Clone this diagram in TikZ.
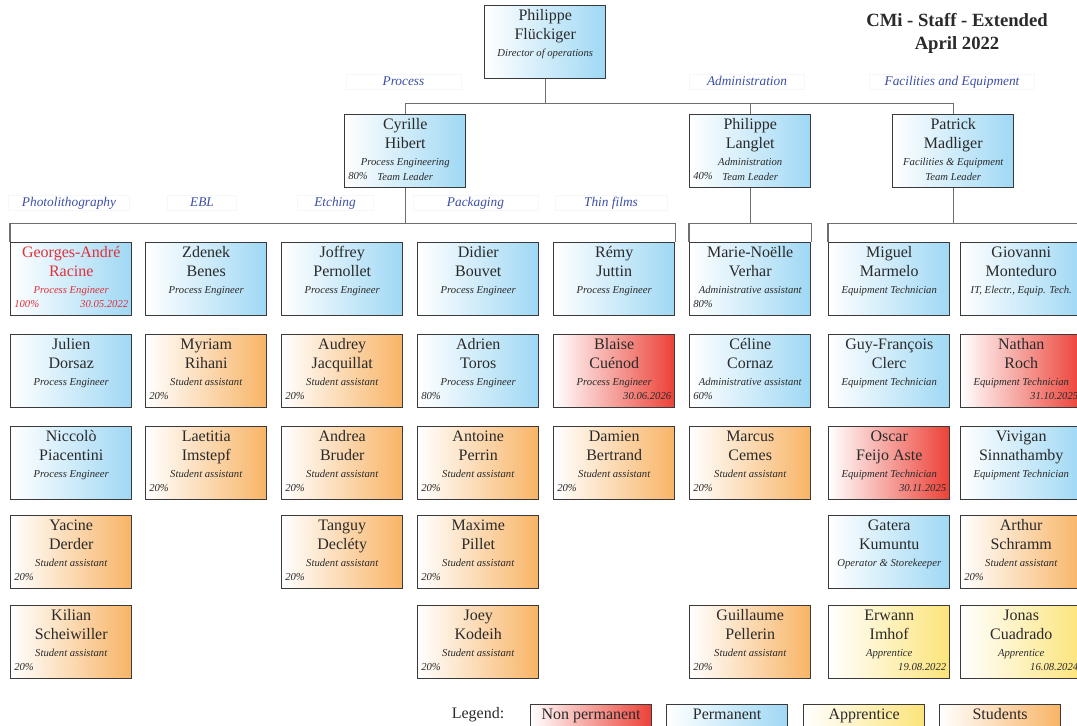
\documentclass[tikz,border=0pt]{standalone}
\usepackage{fontspec}
\setmainfont{Liberation Serif}
\usepackage{tikz}
\usetikzlibrary{positioning, calc}

\definecolor{permblue}{HTML}{9FD8F4}
\definecolor{studorange}{HTML}{F8B466}
\definecolor{tempred}{HTML}{EC4137}
\definecolor{apprgold}{HTML}{FCE47A}
\definecolor{namered}{HTML}{E0303A}
\definecolor{deptblue}{HTML}{3B4EA6}
\definecolor{boxgray}{HTML}{3A3A3A}
\definecolor{wiregray}{HTML}{6E6E6E}
\definecolor{inkgray}{HTML}{2A2A2A}

\tikzstyle{staffbox} = [draw=boxgray, line width=1.1pt, minimum width=90.75pt, minimum height=54.75pt, inner sep=0pt, anchor=north west]
\tikzstyle{perm} = [left color=white, right color=permblue]
\tikzstyle{stud} = [left color=white, right color=studorange]
\tikzstyle{temp} = [left color=white, right color=tempred]
\tikzstyle{appr} = [left color=white, right color=apprgold]
\tikzstyle{who} = [font=\fontsize{12}{14}\selectfont, text=inkgray, inner sep=0pt, anchor=base]
\tikzstyle{job} = [font=\fontsize{8}{9}\selectfont\itshape, text=inkgray, inner sep=0pt, anchor=base]
\tikzstyle{dept} = [font=\fontsize{10}{12}\selectfont\itshape, text=deptblue, draw=black!3, text height=7.5pt, text depth=2.5pt, inner sep=0.5pt]
\tikzstyle{wire} = [draw=wiregray, line width=0.8pt]
\tikzstyle{legendbox} = [draw=boxgray, line width=0.9pt, minimum width=90.75pt, text height=8.5pt, text depth=3pt, inner xsep=0pt, inner ysep=3pt, anchor=north west, font=\fontsize{12}{14}\selectfont, text=inkgray]

% box, then first name, last name, role, rate and end date inside it
\newcommand{\staffmember}[9]{%
  \node[staffbox, #2] (#1) at (#3,#4) {};
  \node[who] (#1-first) at ($(#1.north)+(0,15)$) {#5};
  \node[who] (#1-last) at ($(#1.north)+(0,34)$) {#6};
  \node[job] (#1-role) at ($(#1.north)+(0,51)$) {#7};
  \node[job, anchor=base west] (#1-rate) at ($(#1.north west)+(4,65)$) {#8};
  \node[job, anchor=base east] (#1-end) at ($(#1.north east)+(-4,65)$) {#9};
}

\begin{document}
\begin{tikzpicture}[x=0.75pt, y=-0.75pt]
\useasboundingbox (0,0) rectangle (1077,725);

% title
\node[font=\fontsize{14}{16}\selectfont\bfseries, text=inkgray, anchor=base] (title) at (957,26.5) {CMi - Staff - Extended};
\node[font=\fontsize{14}{16}\selectfont\bfseries, text=inkgray, anchor=base] (date) at (957,49) {April 2022};

% direction and team leaders
\staffmember{director}{perm}{484}{5}{Philippe}{Flückiger}{Director of operations}{}{}
\staffmember{hibert}{perm}{344}{114}{Cyrille}{Hibert}{Process Engineering}{80\%}{}
\staffmember{langlet}{perm}{689}{114}{Philippe}{Langlet}{Administration}{40\%}{}
\staffmember{madliger}{perm}{892}{114}{Patrick}{Madliger}{Facilities \& Equipment}{}{}
\node[job] (hibert-lead) at ($(hibert.north)+(0,66)$) {Team Leader};
\node[job] (langlet-lead) at ($(langlet.north)+(0,66)$) {Team Leader};
\node[job] (madliger-lead) at ($(madliger.north)+(0,66)$) {Team Leader};

% departments
\node[dept, minimum width=86pt] (process) at (403.5,82) {Process};
\node[dept, minimum width=86pt] (admin) at (747,82) {Administration};
\node[dept, minimum width=124pt] (facilities) at (952,82) {Facilities and Equipment};
\node[dept, minimum width=91pt] (litho) at (69,203) {Photolithography};
\node[dept, minimum width=52pt] (ebl) at (202,203) {EBL};
\node[dept, minimum width=57pt] (etching) at (335,203) {Etching};
\node[dept, minimum width=94pt] (packaging) at (475.5,203) {Packaging};
\node[dept, minimum width=84pt] (thinfilms) at (611,203) {Thin films};

% photolithography
\staffmember{racine}{perm}{10}{242}{\color{namered}Georges-André}{\color{namered}Racine}{\color{namered}Process Engineer}{\color{namered}100\%}{\color{namered}30.05.2022}
\staffmember{dorsaz}{perm}{10}{334}{Julien}{Dorsaz}{Process Engineer}{}{}
\staffmember{piacentini}{perm}{10}{426}{Niccolò}{Piacentini}{Process Engineer}{}{}
\staffmember{derder}{stud}{10}{515}{Yacine}{Derder}{Student assistant}{20\%}{}
\staffmember{scheiwiller}{stud}{10}{605}{Kilian}{Scheiwiller}{Student assistant}{20\%}{}

% EBL
\staffmember{benes}{perm}{145}{242}{Zdenek}{Benes}{Process Engineer}{}{}
\staffmember{rihani}{stud}{145}{334}{Myriam}{Rihani}{Student assistant}{20\%}{}
\staffmember{imstepf}{stud}{145}{426}{Laetitia}{Imstepf}{Student assistant}{20\%}{}

% etching
\staffmember{pernollet}{perm}{281}{242}{Joffrey}{Pernollet}{Process Engineer}{}{}
\staffmember{jacquillat}{stud}{281}{334}{Audrey}{Jacquillat}{Student assistant}{20\%}{}
\staffmember{bruder}{stud}{281}{426}{Andrea}{Bruder}{Student assistant}{20\%}{}
\staffmember{declety}{stud}{281}{515}{Tanguy}{Decléty}{Student assistant}{20\%}{}

% packaging
\staffmember{bouvet}{perm}{417}{242}{Didier}{Bouvet}{Process Engineer}{}{}
\staffmember{toros}{perm}{417}{334}{Adrien}{Toros}{Process Engineer}{80\%}{}
\staffmember{perrin}{stud}{417}{426}{Antoine}{Perrin}{Student assistant}{20\%}{}
\staffmember{pillet}{stud}{417}{515}{Maxime}{Pillet}{Student assistant}{20\%}{}
\staffmember{kodeih}{stud}{417}{605}{Joey}{Kodeih}{Student assistant}{20\%}{}

% thin films
\staffmember{juttin}{perm}{553}{242}{Rémy}{Juttin}{Process Engineer}{}{}
\staffmember{cuenod}{temp}{553}{334}{Blaise}{Cuénod}{Process Engineer}{}{30.06.2026}
\staffmember{bertrand}{stud}{553}{426}{Damien}{Bertrand}{Student assistant}{20\%}{}

% administration
\staffmember{verhar}{perm}{689}{242}{Marie-Noëlle}{Verhar}{Administrative assistant}{80\%}{}
\staffmember{cornaz}{perm}{689}{334}{Céline}{Cornaz}{Administrative assistant}{60\%}{}
\staffmember{cemes}{stud}{689}{426}{Marcus}{Cemes}{Student assistant}{20\%}{}
\staffmember{pellerin}{stud}{689}{605}{Guillaume}{Pellerin}{Student assistant}{20\%}{}

% facilities and equipment
\staffmember{marmelo}{perm}{828}{242}{Miguel}{Marmelo}{Equipment Technician}{}{}
\staffmember{clerc}{perm}{828}{334}{Guy-François}{Clerc}{Equipment Technician}{}{}
\staffmember{feijo}{temp}{828}{426}{Oscar}{Feijo Aste}{Equipment Technician}{}{30.11.2025}
\staffmember{kumuntu}{perm}{828}{515}{Gatera}{Kumuntu}{Operator \& Storekeeper}{}{}
\staffmember{imhof}{appr}{828}{605}{Erwann}{Imhof}{Apprentice}{}{19.08.2022}
\staffmember{monteduro}{perm}{960}{242}{Giovanni}{Monteduro}{IT, Electr., Equip. Tech.}{}{}
\staffmember{roch}{temp}{960}{334}{Nathan}{Roch}{Equipment Technician}{}{31.10.2025}
\staffmember{sinnathamby}{perm}{960}{426}{Vivigan}{Sinnathamby}{Equipment Technician}{}{}
\staffmember{schramm}{stud}{960}{515}{Arthur}{Schramm}{Student assistant}{20\%}{}
\staffmember{cuadrado}{appr}{960}{605}{Jonas}{Cuadrado}{Apprentice}{}{16.08.2024}

% connectors
\draw[wire] (director.south) -- ++(0,24) -| (hibert.north);
\draw[wire] (director.south) ++(0,24) -| (langlet.north);
\draw[wire] (director.south) ++(0,24) -| (madliger.north);
\draw[wire] (hibert.south) -- ++(0,35) coordinate (procbus);
\draw[wire] (racine.north west) |- (procbus) -| (juttin.north east);
\draw[wire] (langlet.south) -- ++(0,35) coordinate (adminbus);
\draw[wire] (verhar.north west) |- (adminbus) -| (verhar.north east);
\draw[wire] (madliger.south) -- ++(0,35) coordinate (facbus);
\draw[wire] (marmelo.north west) |- (facbus) -| (monteduro.north east);

% legend
\node[font=\fontsize{12}{14}\selectfont, text=inkgray, anchor=base] (legend) at (478,718) {Legend:};
\node[legendbox, temp] (key-temp) at (530,704) {Non permanent};
\node[legendbox, perm] (key-perm) at (666,704) {Permanent};
\node[legendbox, appr] (key-appr) at (803,704) {Apprentice};
\node[legendbox, stud] (key-stud) at (939,704) {Students};
\end{tikzpicture}
\end{document}
